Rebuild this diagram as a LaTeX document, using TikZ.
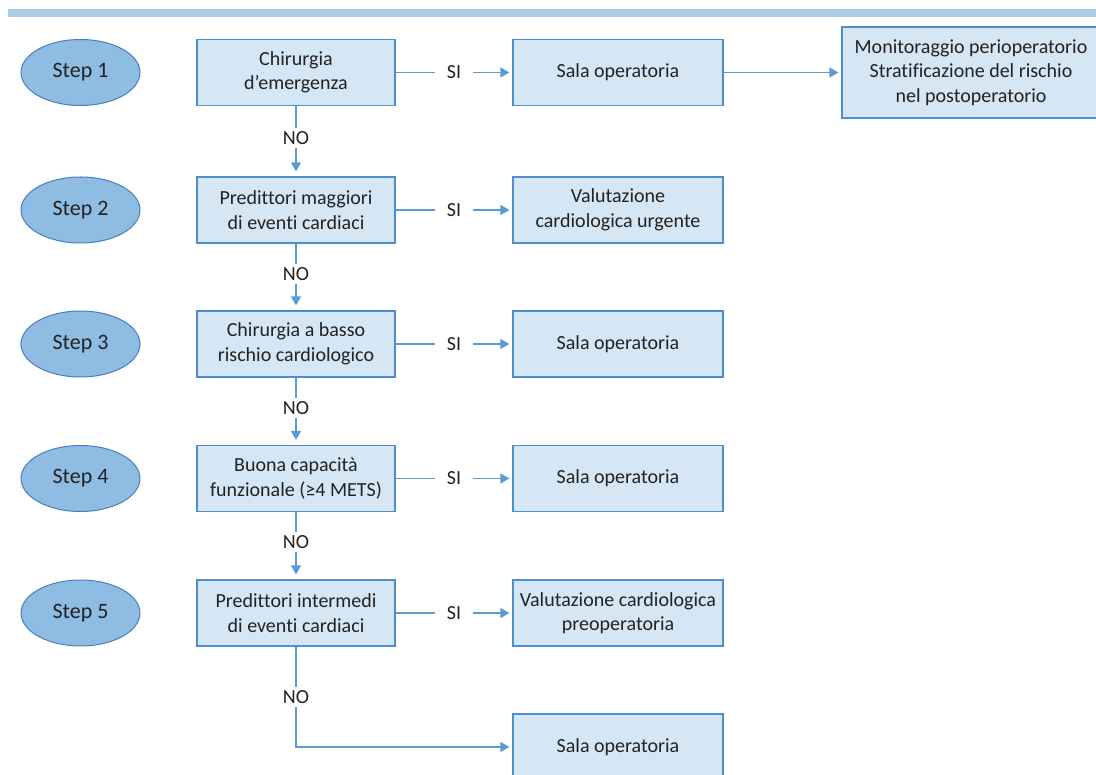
\documentclass[tikz,border=0pt]{standalone}
\usepackage{fontspec}
\setmainfont{Carlito}[Ligatures=NoCommon]
\usetikzlibrary{arrows.meta,shapes.geometric}
\definecolor{boxfill}{HTML}{D5E6F4}
\definecolor{boxline}{HTML}{4F8DCB}
\definecolor{ellfill}{HTML}{8FBCE3}
\definecolor{ellline}{HTML}{4A7EBB}
\definecolor{conn}{HTML}{5B9BD5}
\definecolor{bar}{HTML}{A9CDE4}
\definecolor{txt}{HTML}{222222}
\tikzset{
  stepell/.style={ellipse, draw=ellline, fill=ellfill, line width=1pt,
    minimum width=119pt, minimum height=66pt, inner sep=0pt,
    font=\fontsize{22}{26}\selectfont, text=txt},
  leftbox/.style={rectangle, draw=boxline, fill=boxfill, line width=1.2pt,
    minimum width=198pt, minimum height=66pt, inner sep=0pt, align=center,
    font=\fontsize{20}{24.5}\selectfont, text=txt},
  rightbox/.style={leftbox, minimum width=210pt},
  conline/.style={draw=conn, line width=1.4pt, -{Triangle[length=9pt,width=10pt]}},
  lbl/.style={fill=white, inner xsep=12pt, inner ysep=3.5pt,
    font=\fontsize{20}{24}\selectfont, text=txt}
}
\begin{document}
\begin{tikzpicture}[x=1pt,y=-1pt]
\useasboundingbox (0,0) rectangle (1096,775);
\fill[bar] (8,9) rectangle (1100,17);

% steps
\node[stepell] (e1) at (80.5,72.5) {Step 1};
\node[stepell] (e2) at (80.5,210) {Step 2};
\node[stepell] (e3) at (80.5,344) {Step 3};
\node[stepell] (e4) at (80.5,478.5) {Step 4};
\node[stepell] (e5) at (80.5,613) {Step 5};

% left column
\node[leftbox] (b1) at (296,72.5) {Chirurgia\\d’emergenza};
\node[leftbox] (b2) at (296,210) {Predittori maggiori\\di eventi cardiaci};
\node[leftbox] (b3) at (296,344) {Chirurgia a basso\\rischio cardiologico};
\node[leftbox] (b4) at (296,478.5) {Buona capacità\\funzionale (≥4 METS)};
\node[leftbox] (b5) at (296,613) {Predittori intermedi\\di eventi cardiaci};

% right column
\node[rightbox] (s1) at (618,72.5) {Sala operatoria};
\node[rightbox] (s2) at (618,210) {Valutazione\\cardiologica urgente};
\node[rightbox] (s3) at (618,344) {Sala operatoria};
\node[rightbox] (s4) at (618,478.5) {Sala operatoria};
\node[rightbox] (s5) at (618,613) {Valutazione cardiologica\\preoperatoria};
\node[rightbox] (s6) at (618,747) {Sala operatoria};

% far right
\node[leftbox, minimum width=258pt, minimum height=91pt] (m) at (971,72.5)
  {Monitoraggio perioperatorio\\Stratificazione del rischio\\nel postoperatorio};

% SI connectors
\foreach \i in {1,...,5}{
  \draw[conline, shorten >=3pt] (b\i.east) -- node[lbl]{SI} (s\i.west);
}
\draw[conline, shorten >=3pt] (s1.east) -- (m.west);

% NO connectors
\draw[conline, shorten >=5pt] (b1.south) -- node[lbl, pos=0.45]{NO} (b2.north);
\draw[conline, shorten >=5pt] (b2.south) -- node[lbl, pos=0.45]{NO} (b3.north);
\draw[conline, shorten >=5pt] (b3.south) -- node[lbl, pos=0.45]{NO} (b4.north);
\draw[conline, shorten >=5pt] (b4.south) -- node[lbl, pos=0.45]{NO} (b5.north);
\draw[conline, shorten >=3pt] (b5.south) |- node[lbl, pos=0.25]{NO} (s6.west);
\end{tikzpicture}
\end{document}
